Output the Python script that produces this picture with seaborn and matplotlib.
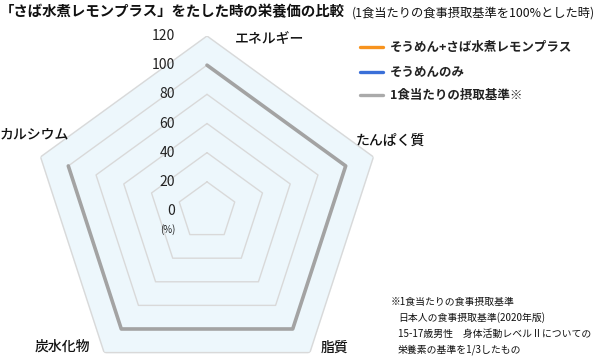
import numpy as np
import matplotlib
matplotlib.use("Agg")
import matplotlib.pyplot as plt
from matplotlib.lines import Line2D
import seaborn as sns
import pandas as pd

categories = ["エネルギー", "たんぱく質", "脂質", "炭水化物", "カルシウム"]
standard = [100, 100, 100, 100, 100]
soumen_saba = []   # not drawn in reference
soumen_only = []   # not drawn in reference
ticks = [0, 20, 40, 60, 80, 100, 120]
legend_labels = ["そうめん+さば水煮レモンプラス", "そうめんのみ", "1食当たりの摂取基準※"]
legend_colors = ["#f7931e", "#3a6fd8", "#aaaaaa"]

sns.set_theme(style="white")
plt.rcParams["font.family"] = ["Noto Sans CJK JP", "DejaVu Sans"]

W, H = 600, 360
fig = plt.figure(figsize=(6, 3.6), dpi=100)
cx, cy, R = 207, 211, 175
ax = fig.add_axes([(cx - R) / W, (H - cy - R) / H, 2 * R / W, 2 * R / H], projection="polar")
ax.set_theta_offset(np.pi / 2)
ax.set_theta_direction(-1)
ax.set_ylim(0, 120)
ax.grid(False)
ax.spines["polar"].set_visible(False)
ax.set_xticks([])
ax.set_yticks([])
ax.set_facecolor("none")

n = len(categories)
ang = np.linspace(0, 2 * np.pi, n, endpoint=False)
ang_c = np.append(ang, ang[0])

# outer fill
ax.fill(ang_c, [120] * (n + 1), color="#edf7fc", zorder=0)
for t in ticks[1:]:
    ax.plot(ang_c, [t] * (n + 1), color="#d9d9d9", lw=1.0, zorder=1)

df = pd.DataFrame({"theta": ang_c, "r": standard + [standard[0]]})
sns.lineplot(data=df, x="theta", y="r", sort=False, ax=ax, color="#a3a3a3", lw=2.6, zorder=3)
ax.set_xlabel("")
ax.set_ylabel("")

for t in ticks:
    ax.annotate(str(t), xy=(0, t), xytext=(-23, 0), textcoords="offset points",
                ha="right", va="center", fontsize=10, color="#222222")
ax.annotate("(%)", xy=(0, 0), xytext=(-23, -13), textcoords="offset points",
            ha="right", va="center", fontsize=7, color="#222222")

def px(x, y):
    return x / W, 1 - y / H

label_pos = [(270, 39, "center"), (390, 141, "center"), (335, 348, "center"),
             (62, 347, "center"), (34, 134, "center")]
for (x, y, ha), lab in zip(label_pos, categories):
    fig.text(*px(x, y), lab, ha=ha, va="center", fontsize=10, fontweight="medium", color="#111111")

# title
fig.text(*px(0, 12), "「さば水煮レモンプラス」をたした時の栄養価の比較", ha="left", va="center",
         fontsize=10.4, fontweight="bold", color="#111111")
fig.text(*px(352, 13), "(1食当たりの食事摂取基準を100%とした時)", ha="left", va="center",
         fontsize=8.8, color="#111111")

# legend
for i, (lab, col) in enumerate(zip(legend_labels, legend_colors)):
    y = [47, 72, 95][i]
    fig.add_artist(Line2D([360 / W, 383 / W], [1 - y / H] * 2, color=col, lw=2.4))
    fig.text(*px(390, y), lab, ha="left", va="center", fontsize=9, fontweight="bold", color="#222222")

notes = [(391, 302, "※1食当たりの食事摂取基準"), (398, 318, "日本人の食事摂取基準(2020年版)"),
         (398, 334, "15-17歳男性　身体活動レベルⅡについての"), (398, 350, "栄養素の基準を1/3したもの")]
for x, y, s in notes:
    fig.text(*px(x, y), s, ha="left", va="center", fontsize=7.1, color="#111111")

fig.savefig("out.png", dpi=100)
